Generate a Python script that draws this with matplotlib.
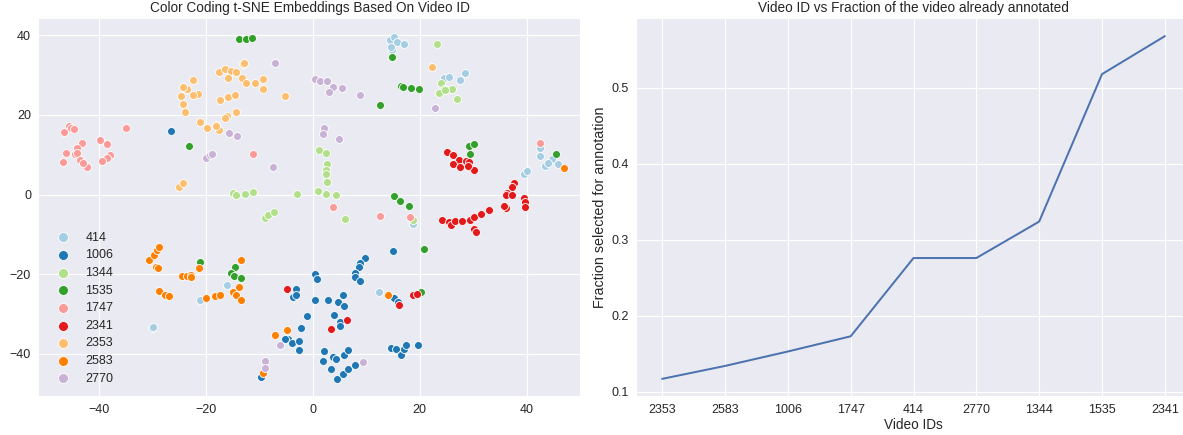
import matplotlib
matplotlib.use("Agg")
import matplotlib.pyplot as plt

# ---- t-SNE embedding points, one list per video id ----
video_ids = [414, 1006, 1344, 1535, 1747, 2341, 2353, 2583, 2770]
palette = ["#a6cee3", "#1f78b4", "#b2df8a", "#33a02c", "#fb9a99",
           "#e31a1c", "#fdbf6f", "#ff7f00", "#cab2d6"]

pts_414 = [(14.5, 38.9), (15.2, 39.6), (15.8, 38.4), (17.0, 37.7), (14.9, 36.2), (14.7, 37.0),
           (24.6, 29.2), (25.5, 29.5), (27.5, 28.8), (28.5, 30.5),
           (42.6, 11.7), (42.5, 9.8), (43.4, 7.2), (44.8, 9.0), (45.8, 7.8), (44.0, 8.0),
           (39.5, 5.2), (40.1, 5.8), (18.8, -7.5), (12.4, -24.6),
           (-21.1, -26.4), (-16.0, -22.6), (-30.0, -33.6), (-29.8, -33.2)]
pts_1006 = [(-26.5, 16.0), (15.0, -14.3),
            (9.8, -15.9), (8.8, -17.3), (8.6, -18.3), (8.0, -19.8), (7.9, -20.8), (8.8, -21.7),
            (0.4, -20.0), (0.75, -21.3), (15.2, -26.0), (16.0, -27.0),
            (0.5, -26.6), (2.9, -26.6), (4.8, -26.9), (5.6, -25.2), (5.9, -28.0),
            (-1.0, -30.6), (4.0, -30.3), (5.1, -32.1), (5.1, -32.9),
            (2.1, -39.3), (3.8, -40.9), (4.3, -41.3), (5.8, -40.3), (6.6, -39.0),
            (1.9, -41.8), (3.4, -43.8), (4.6, -46.4), (5.7, -45.1), (6.6, -43.8), (7.9, -42.7),
            (14.6, -38.5), (15.6, -38.9), (16.5, -40.4), (17.0, -38.9), (17.5, -37.9), (19.7, -37.7),
            (-3.1, -23.6), (-3.7, -25.8), (-3.1, -25.2),
            (-2.2, -33.5), (-4.6, -36.3), (-3.9, -37.2), (-2.6, -36.7), (-2.6, -39.1), (-5.1, -36.2),
            (-9.7, -45.8)]
pts_1344 = [(23.2, 37.7),
            (24.0, 28.1), (24.5, 26.4), (25.1, 26.2), (26.0, 26.5), (23.6, 25.4), (27.0, 24.1), (24.8, 26.3),
            (1.1, 11.2), (2.4, 10.5), (2.6, 7.7), (2.5, 6.2), (2.5, 5.1), (2.6, 3.1), (1.0, 0.9),
            (2.5, 0.1), (4.4, -0.1),
            (-15.0, 0.3), (-14.4, -0.1), (-12.6, 0.2), (-11.2, 0.7), (-2.9, 0.2),
            (6.0, -6.1), (18.8, -6.4), (-9.0, -5.8), (-8.3, -5.1), (-7.3, -4.3)]
pts_1535 = [(-13.8, 39.2), (-12.4, 39.2), (-11.3, 39.3), (14.8, 34.6),
            (16.6, 27.2), (16.9, 27.0), (18.3, 26.7), (19.8, 26.4), (12.6, 22.4), (-23.1, 12.3),
            (29.3, 12.1), (30.2, 12.8), (29.4, 10.1), (45.6, 10.2),
            (15.3, -0.4), (16.4, -1.7), (18.0, -2.8), (20.9, -13.8), (20.3, -24.4),
            (-21.1, -17.0), (-14.6, -18.3), (-15.3, -19.8), (-14.8, -20.4), (-13.4, -20.9)]
pts_1747 = [(-35.0, 16.6), (-46.5, 15.8), (-45.5, 17.2), (-45.3, 16.6), (-44.6, 16.4),
            (-43.2, 13.0), (-44.0, 11.7), (-46.2, 10.4), (-44.5, 10.2), (-44.1, 10.5),
            (-43.6, 8.8), (-46.7, 8.1), (-42.3, 6.8), (-43.0, 8.0),
            (-39.8, 13.7), (-38.4, 12.7), (-37.9, 9.9), (-38.5, 9.3), (-39.4, 8.5),
            (-11.2, 10.3), (42.6, 12.9), (3.8, -3.1), (12.6, -5.4), (18.2, -5.6)]
pts_2341 = [(25.2, 10.8), (26.2, 10.0), (27.4, 8.8), (28.7, 8.4), (29.3, 8.3), (26.3, 7.8),
            (27.6, 7.0), (29.3, 6.8), (30.2, 6.2), (29.0, 7.2),
            (37.7, 2.8), (37.2, 1.8), (36.4, 0.3), (36.1, 0.0), (37.2, -0.0),
            (39.6, -0.9), (39.7, -1.9), (39.7, -3.0),
            (24.2, -6.5), (25.5, -6.8), (25.9, -7.7), (26.7, -6.6), (27.9, -6.7), (29.4, -6.4),
            (30.2, -5.7), (31.5, -4.8), (33.0, -3.9), (36.1, -3.5), (35.7, -2.8),
            (30.2, -8.7), (30.5, -9.3), (16.2, -27.8), (18.7, -25.3), (19.5, -25.0),
            (6.5, -31.6), (3.5, -33.7), (-4.9, -23.8)]
pts_2353 = [(-13.1, 32.8), (-12.8, 33.1), (-17.6, 30.8), (-16.4, 31.5), (-15.3, 31.0), (-14.3, 30.7),
            (-15.9, 29.2), (-13.2, 29.4), (-12.4, 27.9), (-10.8, 28.0), (-9.3, 29.0), (-9.3, 26.4),
            (-22.4, 28.9), (-23.5, 26.6), (-24.3, 27.0), (-24.7, 24.7), (-21.4, 25.3), (-22.4, 24.9),
            (-24.2, 22.8), (-23.9, 20.8), (-17.4, 23.8), (-15.8, 24.5), (-14.6, 24.9), (-5.2, 24.7),
            (-14.3, 20.8), (-16.1, 19.7), (-16.4, 19.3),
            (-21.1, 18.2), (-19.7, 16.7), (-18.0, 17.5), (-17.6, 16.2), (-18.0, 17.3),
            (-25.0, 2.0), (-24.2, 3.0), (22.3, 32.0)]
pts_2583 = [(47.1, 6.7), (14.0, -25.2),
            (-30.7, -16.5), (-29.7, -15.2), (-29.2, -13.9), (-28.7, -13.2), (-29.3, -18.1), (-28.9, -18.5),
            (-24.5, -20.4), (-23.5, -20.4), (-22.7, -20.1), (-22.7, -20.7), (-21.3, -18.5),
            (-28.8, -24.3), (-27.6, -25.3), (-26.9, -25.6),
            (-20.0, -26.0), (-18.3, -25.6), (-17.3, -25.3),
            (-13.5, -16.5), (-13.8, -23.2), (-14.9, -24.5), (-14.4, -25.3), (-13.5, -26.6),
            (-7.0, -35.2), (-4.9, -33.9), (-9.3, -44.8)]
pts_2770 = [(-7.1, 33.1), (-15.6, 15.4), (-14.1, 14.8),
            (-19.9, 9.1), (-19.3, 10.0), (-18.9, 10.3), (-7.35, 6.8),
            (0.5, 29.0), (1.4, 28.6), (2.7, 28.6), (3.8, 27.0), (3.1, 25.7), (5.4, 26.7), (8.8, 25.1),
            (22.9, 21.7), (2.1, 16.6), (2.0, 15.1), (4.9, 13.9),
            (9.5, -42.1), (-6.2, -37.7), (-9.0, -41.9), (-9.0, -43.6)]

all_pts = [pts_414, pts_1006, pts_1344, pts_1535, pts_1747,
           pts_2341, pts_2353, pts_2583, pts_2770]

# ---- fraction of each video selected for annotation ----
order_ids = ["2353", "2583", "1006", "1747", "414", "2770", "1344", "1535", "2341"]
fractions = [0.117, 0.134, 0.153, 0.173, 0.276, 0.276, 0.324, 0.518, 0.568]

plt.style.use("seaborn-v0_8")
plt.rcParams["font.family"] = ["Liberation Sans", "DejaVu Sans"]

DPI = 82
fig = plt.figure(figsize=(1183 / DPI, 435 / DPI), dpi=DPI)
ax1 = fig.add_axes([39 / 1183, 1 - 396 / 435, 541 / 1183, 377 / 435])
ax2 = fig.add_axes([637 / 1183, 1 - 396 / 435, 553 / 1183, 377 / 435])

# -------- left: t-SNE scatter coloured by video --------
for vid, col, pts in zip(video_ids, palette, all_pts):
    xs = [p[0] for p in pts]
    ys = [p[1] for p in pts]
    ax1.scatter(xs, ys, s=49, color=col, edgecolors="white", linewidths=0.75, label=str(vid))
ax1.set_xlim(-51.2, 50.0)
ax1.set_ylim(-50.6, 44.1)
ax1.set_xticks([-40, -20, 0, 20, 40])
ax1.set_yticks([-40, -20, 0, 20, 40])
ax1.set_title("Color Coding t-SNE Embeddings Based On Video ID", fontsize=12)
ax1.tick_params(labelsize=11)
ax1.legend(loc="lower left", fontsize=11, frameon=False, markerscale=1.25,
           labelspacing=0.45)

# -------- right: fraction annotated per video --------
ax2.plot(range(len(order_ids)), fractions, color="#4c72b0", lw=1.75)
ax2.set_xticks(range(len(order_ids)))
ax2.set_xticklabels(order_ids)
ax2.set_yticks([0.1, 0.2, 0.3, 0.4, 0.5])
ax2.tick_params(labelsize=11)
ax2.set_xlabel("Video IDs", fontsize=12, labelpad=2)
ax2.set_ylabel("Fraction selected for annotation", fontsize=12.5)
ax2.set_title("Video ID vs Fraction of the video already annotated", fontsize=12, pad=6)

fig.savefig("out.png", dpi=DPI)
